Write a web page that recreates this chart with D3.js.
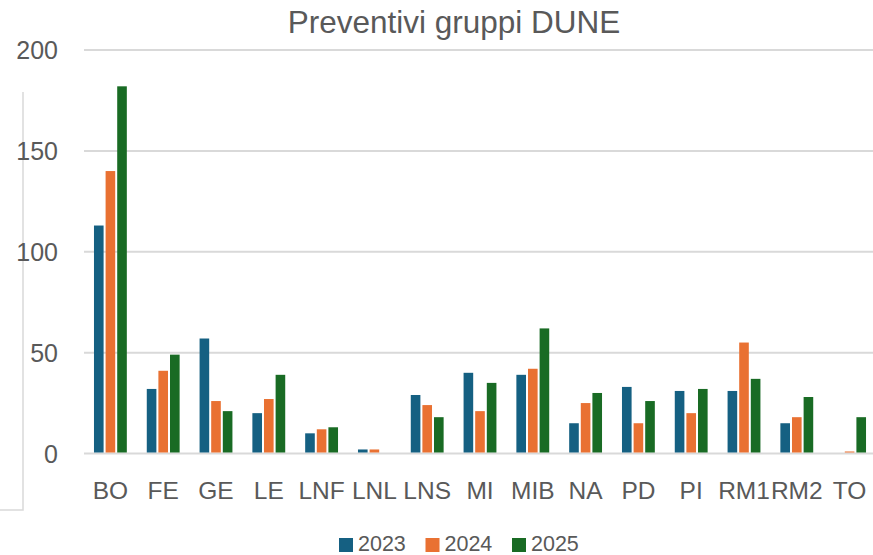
<!DOCTYPE html>
<html>
<head>
<meta charset="utf-8">
<script src="https://cdn.jsdelivr.net/npm/d3@7"></script>
<style>
	body { margin: 0; background: #fff; }
	svg { display: block; font-family: "Liberation Sans", Arial, sans-serif; }
</style>
</head>
<body>
<div id="vis"></div>
<script>

var title = "Preventivi gruppi DUNE";
var categories = ["BO", "FE", "GE", "LE", "LNF", "LNL", "LNS", "MI", "MIB", "NA", "PD", "PI", "RM1", "RM2", "TO"];
var seriesNames = ["2023", "2024", "2025"];
var v2023 = [113, 32, 57, 20, 10, 2, 29, 40, 39, 15, 33, 31, 31, 15, 0];
var v2024 = [140, 41, 26, 27, 12, 2, 24, 21, 42, 25, 15, 20, 55, 18, 1];
var v2025 = [182, 49, 21, 39, 13, 0, 18, 35, 62, 30, 26, 32, 37, 28, 18];
var yTicks = [0, 50, 100, 150, 200];

var colors = ["#156082", "#E97132", "#196B24"];
var textColor = "#595959";
var gridColor = "#d9d9d9";

var w = 873, h = 555;

var svg = d3.select("#vis").append("svg")
	.attr("width", w)
	.attr("height", h);

// stray border left over from the sheet behind the chart
svg.append("path")
	.attr("d", "M23,92V510H0")
	.attr("fill", "none")
	.attr("stroke", gridColor)
	.attr("stroke-width", 1.5);

var rows = categories.map(function (c, i) {
	return {cat: c, vals: [v2023[i], v2024[i], v2025[i]].map(function (v, s) {
		return {v: v, s: s};
	})};
});

var x0 = d3.scaleBand()
	.domain(categories)
	.range([84, 876])
	.paddingInner(0.34)
	.paddingOuter(0.17);

var x1 = d3.scaleBand()
	.domain(d3.range(seriesNames.length))
	.range([0, x0.bandwidth()]);

var y = d3.scaleLinear()
	.domain([0, 200])
	.range([453.5, 50]);

var gap = 2;

// gridlines
svg.append("g").selectAll("line")
	.data(yTicks)
	.enter()
	.append("line")
	.attr("x1", 84)
	.attr("x2", w)
	.attr("y1", function (d) { return y(d); })
	.attr("y2", function (d) { return y(d); })
	.attr("stroke", gridColor)
	.attr("stroke-width", 2);

// y labels
svg.append("g").selectAll("text")
	.data(yTicks)
	.enter()
	.append("text")
	.attr("x", 58)
	.attr("y", function (d) { return y(d); })
	.attr("dy", "0.36em")
	.attr("text-anchor", "end")
	.attr("font-size", 25)
	.attr("fill", textColor)
	.text(function (d) { return d; });

// bars (white gap between them, sitting on top of the baseline)
var groups = svg.append("g").selectAll("g")
	.data(rows)
	.enter()
	.append("g")
	.attr("transform", function (d) { return "translate(" + x0(d.cat) + ",0)"; });

groups.selectAll("rect")
	.data(function (d) { return d.vals.filter(function (a) { return a.v > 0; }); })
	.enter()
	.append("rect")
	.attr("x", function (d) { return x1(d.s) + gap / 2; })
	.attr("width", x1.bandwidth() - gap)
	.attr("y", function (d) { return y(d.v); })
	.attr("height", function (d) { return Math.max(1, y(0) - 1 - y(d.v)); })
	.attr("fill", function (d) { return colors[d.s]; });

// x labels
svg.append("g").selectAll("text")
	.data(categories)
	.enter()
	.append("text")
	.attr("x", function (d) { return x0(d) + x0.bandwidth() / 2; })
	.attr("y", 499)
	.attr("text-anchor", "middle")
	.attr("font-size", 24.5)
	.attr("fill", textColor)
	.text(function (d) { return d; });

// title
svg.append("text")
	.attr("x", 454)
	.attr("y", 33)
	.attr("text-anchor", "middle")
	.attr("font-size", 31.5)
	.attr("fill", textColor)
	.text(title);

// legend
var legend = svg.append("g").selectAll("g")
	.data(seriesNames)
	.enter()
	.append("g")
	.attr("transform", function (d, i) { return "translate(" + (339 + i * 86.5) + ",538)"; });

legend.append("rect")
	.attr("width", 14)
	.attr("height", 14)
	.attr("fill", function (d, i) { return colors[i]; });

legend.append("text")
	.attr("x", 19)
	.attr("y", 12.5)
	.attr("font-size", 21.5)
	.attr("fill", textColor)
	.text(function (d) { return d; });

</script>
</body>
</html>
